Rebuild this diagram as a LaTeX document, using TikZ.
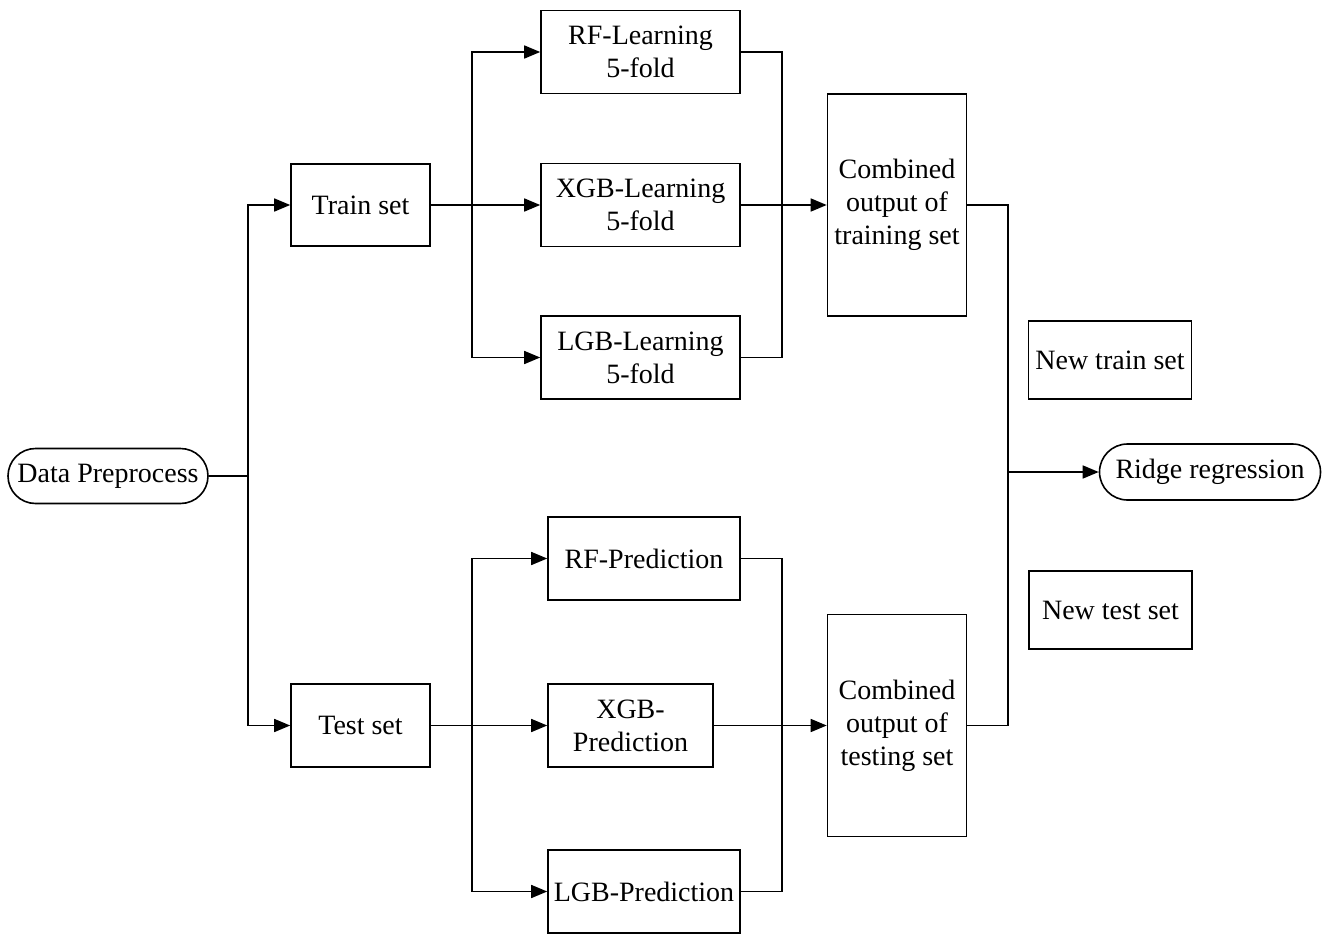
\documentclass[tikz,border=0pt]{standalone}
\usepackage{fontspec}
\setmainfont{Liberation Serif}
\usetikzlibrary{arrows.meta,shapes.misc}
\begin{document}
\begin{tikzpicture}[x=1pt,y=-1pt,
 box/.style={draw, line width=1.6pt, inner sep=0pt, align=center, font=\fontsize{28}{33}\selectfont},
 term/.style={box, rounded rectangle, rounded rectangle arc length=180},
 conn/.style={line width=1.6pt},
 arr/.style={conn, -{Triangle[length=16pt,width=13pt]}}]
\useasboundingbox (0,0) rectangle (1328,934);
\node[term, minimum width=200, minimum height=55] (dp) at (108,476) {Data Preprocess};
\node[box, minimum width=139, minimum height=82] (train) at (360.5,205) {Train set};
\node[box, minimum width=139, minimum height=83] (test) at (360.5,725.5) {Test set};
\node[box, minimum width=199, minimum height=83] (rfl) at (640.5,52) {RF-Learning\\5-fold};
\node[box, minimum width=199, minimum height=83] (xgbl) at (640.5,205) {XGB-Learning\\5-fold};
\node[box, minimum width=199, minimum height=83] (lgbl) at (640.5,357.5) {LGB-Learning\\5-fold};
\node[box, minimum width=139, minimum height=222] (cot) at (897,205) {Combined\\output of\\training set};
\node[box, minimum width=192, minimum height=83] (rfp) at (644,558.5) {RF-Prediction};
\node[box, minimum width=165, minimum height=83] (xgbp) at (630.5,725.5) {XGB-\\Prediction};
\node[box, minimum width=192, minimum height=83] (lgbp) at (644,891.5) {LGB-Prediction};
\node[box, minimum width=139, minimum height=222] (cotest) at (897,725.5) {Combined\\output of\\testing set};
\node[box, minimum width=163, minimum height=78] (newtrain) at (1110,360) {New train set};
\node[box, minimum width=163, minimum height=78] (newtest) at (1110.5,610) {New test set};
\node[term, minimum width=221, minimum height=56] (ridge) at (1210,472) {Ridge regression};
% left split
\coordinate (s) at (248,476);
\draw[conn] (dp.east) -- (s);
\draw[arr] (s) |- (train.west);
\draw[arr] (s) |- (test.west);
% training branch
\coordinate (tb) at (472,205);
\draw[arr] (train.east) -- (xgbl.west);
\draw[arr] (tb) |- (rfl.west);
\draw[arr] (tb) |- (lgbl.west);
\coordinate (rb) at (782,205);
\draw[conn] (rfl.east) -| (rb) |- (lgbl.east);
\draw[arr] (xgbl.east) -- (cot.west);
% testing branch
\coordinate (teb) at (472,725.5);
\draw[arr] (test.east) -- (xgbp.west);
\draw[arr] (teb) |- (rfp.west);
\draw[arr] (teb) |- (lgbp.west);
\coordinate (rbt) at (782,725.5);
\draw[conn] (rfp.east) -| (rbt) |- (lgbp.east);
\draw[arr] (xgbp.east) -- (cotest.west);
% output
\coordinate (ob) at (1008,472);
\draw[conn] (cot.east) -| (ob) |- (cotest.east);
\draw[arr] (ob) -- (ridge.west);
\end{tikzpicture}
\end{document}
